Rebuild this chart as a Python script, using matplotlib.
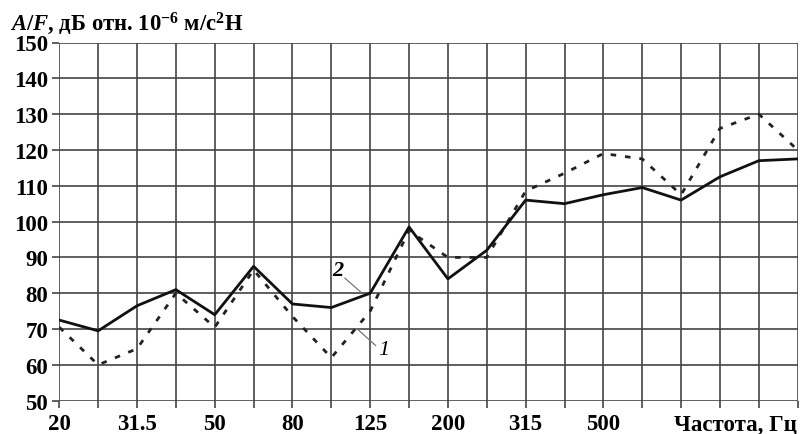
import matplotlib
matplotlib.use('Agg')
import matplotlib.pyplot as plt

plt.rcParams['font.family'] = ['Liberation Serif', 'DejaVu Serif']
plt.rcParams['mathtext.fontset'] = 'custom'
plt.rcParams['mathtext.rm'] = 'Liberation Serif:bold'
plt.rcParams['mathtext.it'] = 'Liberation Serif:italic:bold'
plt.rcParams['mathtext.bf'] = 'Liberation Serif:bold'

freqs = ['20', '25', '31.5', '40', '50', '63', '80', '100', '125', '160',
         '200', '250', '315', '400', '500', '630', '800', '1000', '1250', '1600']
shown = ['20', '31.5', '50', '80', '125', '200', '315', '500']
curve1 = [70.5, 60, 64.5, 80, 70.5, 86.5, 73.5, 62, 75, 97.5,
          90, 90, 108.5, 113.5, 119, 117.5, 107.5, 126, 130, 120]
curve2 = [72.5, 69.5, 76.5, 81, 74, 87.5, 77, 76, 80, 98.5,
          84, 92, 106, 105, 107.5, 109.5, 106, 112.5, 117, 117.5]

x = list(range(len(freqs)))
fig = plt.figure(figsize=(8, 4.35), dpi=100)
ax = fig.add_axes([0.0741, 0.0766, 0.923, 0.8234])

ax.plot(x, curve1, color='#222222', lw=2.0, ls=(0, (2, 3.2)))
ax.plot(x, curve2, color='#111111', lw=2.0)

ax.set_xlim(0, len(freqs) - 1)
ax.set_ylim(50, 150)
ax.set_yticks(range(50, 151, 10))
ax.set_xticks(x)
ax.set_xticklabels([f if f in shown else '' for f in freqs])
ax.grid(True, color='#444444', lw=1.2)
ax.set_axisbelow(True)
for s in ax.spines.values():
    s.set_visible(False)
ax.tick_params(length=5, width=1.2, color='#444444', labelsize=16.5, pad=4)
ax.tick_params(axis='y', pad=3)
for lab in ax.get_xticklabels() + ax.get_yticklabels():
    lab.set_fontweight('bold')

fig.text(797 / 800, 1 - 425 / 435, 'Частота, Гц', ha='right', va='center',
         fontsize=16.5, fontweight='bold')
fig.text(10 / 800, 1 - 30 / 435, r'$A/F$, дБ отн. 10$^{\mathbf{-6}}$ м/с$^{\mathbf{2}}$Н',
         ha='left', va='baseline', fontsize=16.3, fontweight='bold')

# curve labels with thin leader lines
ax.text(7.17, 86.4, '2', ha='center', va='center', fontsize=16,
        fontweight='bold', style='italic')
ax.plot([7.35, 7.76], [84.2, 80.3], color='#777777', lw=0.9)
ax.text(8.36, 64.2, '1', ha='center', va='center', fontsize=16, style='italic')
ax.plot([7.67, 8.14], [70.0, 65.4], color='#777777', lw=0.9)

fig.savefig('out.png', dpi=100)
